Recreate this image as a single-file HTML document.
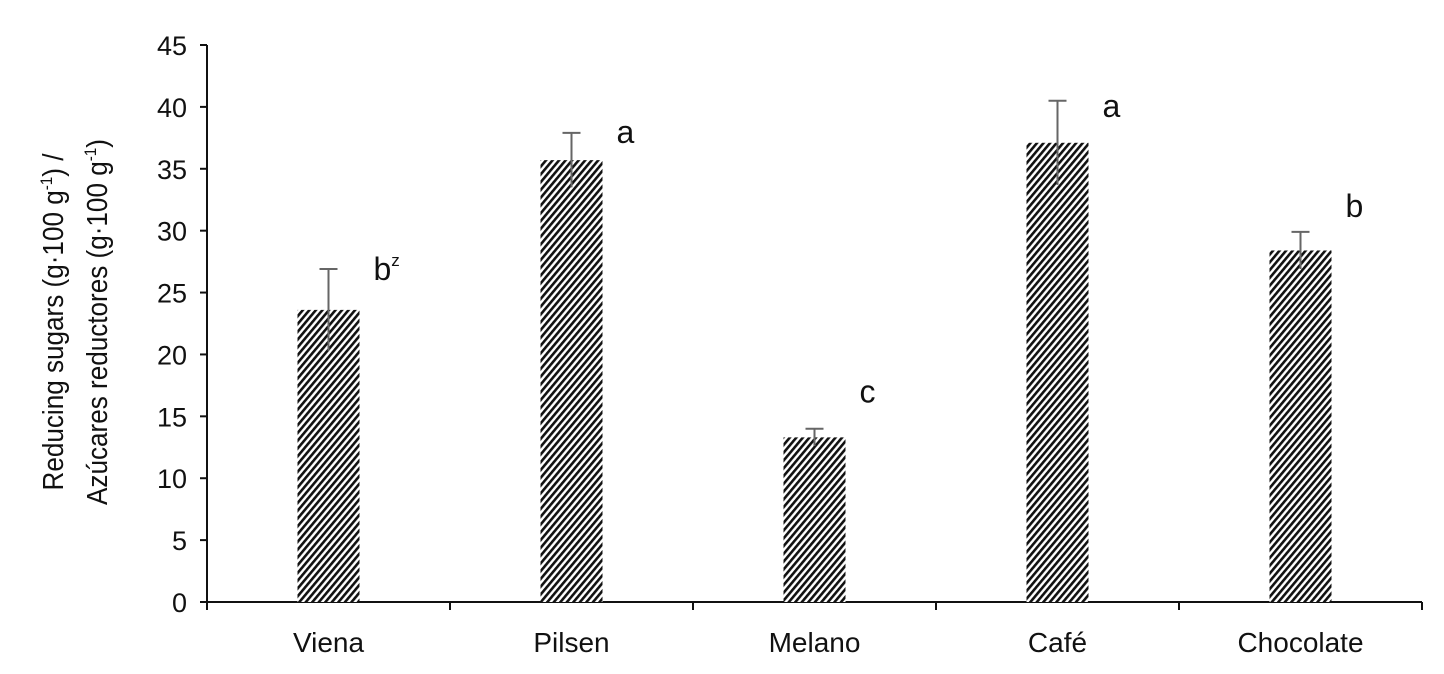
<!DOCTYPE html>
<html><head><meta charset="utf-8"><style>
body{margin:0;background:#fff;}
svg text{font-family:"Liberation Sans Narrow","Liberation Sans",sans-serif;fill:#111;}
</style></head><body>
<svg id="chart" width="1444" height="669" xmlns="http://www.w3.org/2000/svg">
<defs>
<pattern id="hatch" patternUnits="userSpaceOnUse" width="5" height="5" patternTransform="rotate(40)">
<rect width="5" height="5" fill="#fff"/>
<rect width="2.6" height="5" fill="#111"/>
</pattern>
</defs>
<g id="axes"></g>
<g id="bars"></g>
<text transform="translate(63,322) rotate(-90) scale(0.9,1)" text-anchor="middle" font-size="29">Reducing sugars (g·100 g<tspan dy="-11" font-size="17">-1</tspan><tspan dy="11">) /</tspan></text>
<text transform="translate(107,322) rotate(-90) scale(0.9,1)" text-anchor="middle" font-size="29">Azúcares reductores (g·100 g<tspan dy="-11" font-size="17">-1</tspan><tspan dy="11">)</tspan></text>
</svg>
<script>
const categories=["Viena","Pilsen","Melano","Café","Chocolate"];
const values=[23.6,35.7,13.3,37.1,28.4];
const errors=[3.3,2.2,0.7,3.4,1.5];
const letters=["b","a","c","a","b"];
const letterVals=[26.0,37.1,16.1,39.2,31.1];
const yTicks=[0,5,10,15,20,25,30,35,40,45];
const NS="http://www.w3.org/2000/svg";
const x0=207,x1=1422,y0=602,y1=45,yMax=45;
const bw=(x1-x0)/categories.length;
const y=v=>y0-(v/yMax)*(y0-y1);
const xc=i=>x0+bw*(i+0.5);
function mk(tag,attrs,parent,txt){const e=document.createElementNS(NS,tag);for(const k in attrs)e.setAttribute(k,attrs[k]);if(txt!==undefined)e.textContent=txt;parent.appendChild(e);return e;}
const ax=document.getElementById('axes'),bars=document.getElementById('bars');
let l=mk('line',{x1:x0,y1:y0,x2:x1,y2:y0,stroke:'#111','stroke-width':2},ax);


l=mk('line',{x1:x0,y1:y0,x2:x0,y2:y1,stroke:'#111','stroke-width':2},ax);


yTicks.forEach(t=>{
  mk('line',{x1:x0-7,y1:y(t),x2:x0,y2:y(t),stroke:'#111','stroke-width':2},ax);
  const tx=mk('text',{x:x0-20,y:y(t)+10,'text-anchor':'end','font-size':27},ax,t);
  
  
});
for(let i=0;i<=categories.length;i++){mk('line',{x1:x0+bw*i,y1:y0,x2:x0+bw*i,y2:y0+8,stroke:'#111','stroke-width':2},ax);}
categories.forEach((c,i)=>{
  const tx=mk('text',{x:xc(i),y:652,'text-anchor':'middle','font-size':28},ax,c);
  
  
  const r=mk('rect',{x:xc(i)-31,y:y(values[i]),width:62,height:y0-y(values[i]),fill:'url(#hatch)'},bars);
  
  
  const eb=mk('path',{d:`M${xc(i)},${y(values[i]-errors[i])}V${y(values[i]+errors[i])}M${xc(i)-9},${y(values[i]+errors[i])}H${xc(i)+9}`,stroke:'#666','stroke-width':2,fill:'none'},bars);
  
  
  const lt=mk('text',{x:xc(i)+45,y:y(letterVals[i]),'font-size':32},bars,letters[i]);
  if(i===0){mk('tspan',{dy:-14,'font-size':17},lt,'z');}
  
  
});
</script>
</body></html>
